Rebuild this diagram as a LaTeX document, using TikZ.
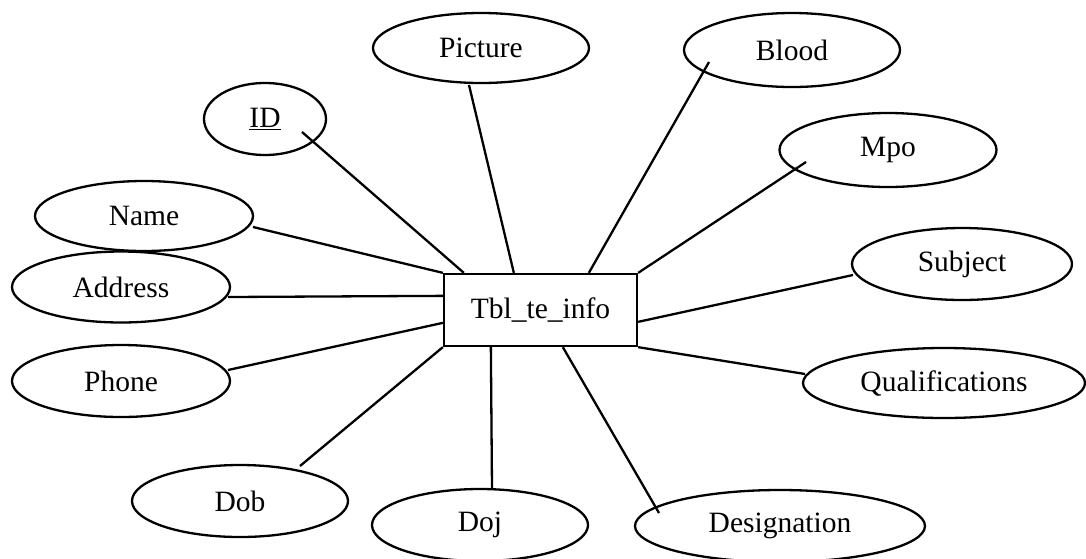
\documentclass[tikz,border=0pt]{standalone}
\usepackage{fontspec}
\setmainfont{Liberation Serif}
\usetikzlibrary{shapes.geometric}

\tikzset{
  attr/.style={draw, ellipse, line width=2.3pt, inner sep=0pt,
               font=\fontsize{29.5}{35}\selectfont},
  entity/.style={draw, rectangle, line width=2.3pt, inner sep=0pt,
                 minimum width=193pt, minimum height=72pt,
                 font=\fontsize{29.5}{35}\selectfont},
  link/.style={line width=2.3pt}
}

\begin{document}
\begin{tikzpicture}[x=1pt, y=-1pt]
  \useasboundingbox (0,0) rectangle (1086,558);
  \clip (0,0) rectangle (1086,558);
  \fill[white] (0,0) rectangle (1086,558);

  % central entity
  \node[entity] (tbl) at (540.5,310) {Tbl\_te\_info};

  % attributes
  \node[attr, minimum width=122pt, minimum height=72pt] (id)   at (265,119) {\underline{ID}};
  \node[attr, minimum width=216pt, minimum height=70pt] (pic)  at (481,48)  {Picture};
  \node[attr, minimum width=216pt, minimum height=74pt] (bld)  at (792,50)  {Blood};
  \node[attr, minimum width=217pt, minimum height=74pt] (mpo)  at (888,150) {Mpo};
  \node[attr, minimum width=218pt, minimum height=70pt] (nam)  at (144,216) {Name};
  \node[attr, minimum width=218pt, minimum height=71pt] (adr)  at (121,287) {Address};
  \node[attr, minimum width=218pt, minimum height=72pt] (pho)  at (121,381) {Phone};
  \node[attr, minimum width=220pt, minimum height=72pt] (sub)  at (962,264) {Subject};
  \node[attr, minimum width=282pt, minimum height=70pt] (qua)  at (944,383) {Qualifications};
  \node[attr, minimum width=216pt, minimum height=72pt] (dob)  at (240,501) {Dob};
  \node[attr, minimum width=216pt, minimum height=72pt] (doj)  at (480,525) {Doj};
  \node[attr, minimum width=290pt, minimum height=72pt] (des)  at (780,526) {Designation};

  % connectors from the entity to each attribute
  \draw[link] ([shift={(37,13)}]id.center)    -- ([shift={(21,0)}]tbl.north west);
  \draw[link] ([shift={(109,11)}]nam.center)  -- (tbl.north west);
  \draw[link] ([shift={(-12,37)}]pic.center)  -- ([shift={(71,0)}]tbl.north west);
  \draw[link] ([shift={(-83,12)}]bld.center)  -- ([shift={(146,0)}]tbl.north west);
  \draw[link] ([shift={(-82,12)}]mpo.center)  -- (tbl.north east);
  \draw[link] ([shift={(-109,11)}]sub.center) -- ([shift={(0,49)}]tbl.north east);
  \draw[link] ([shift={(-139,-9)}]qua.center) -- (tbl.south east);
  \draw[link] ([shift={(-121,-13)}]des.center) -- ([shift={(120,0)}]tbl.south west);
  \draw[link] ([shift={(12,-36)}]doj.center)  -- ([shift={(48,0)}]tbl.south west);
  \draw[link] ([shift={(60,-35)}]dob.center)  -- (tbl.south west);
  \draw[link] ([shift={(107,-11)}]pho.center) -- ([shift={(0,50)}]tbl.north west);
  \draw[link] ([shift={(107,10)}]adr.center)  -- ([shift={(0,23)}]tbl.north west);
\end{tikzpicture}
\end{document}
